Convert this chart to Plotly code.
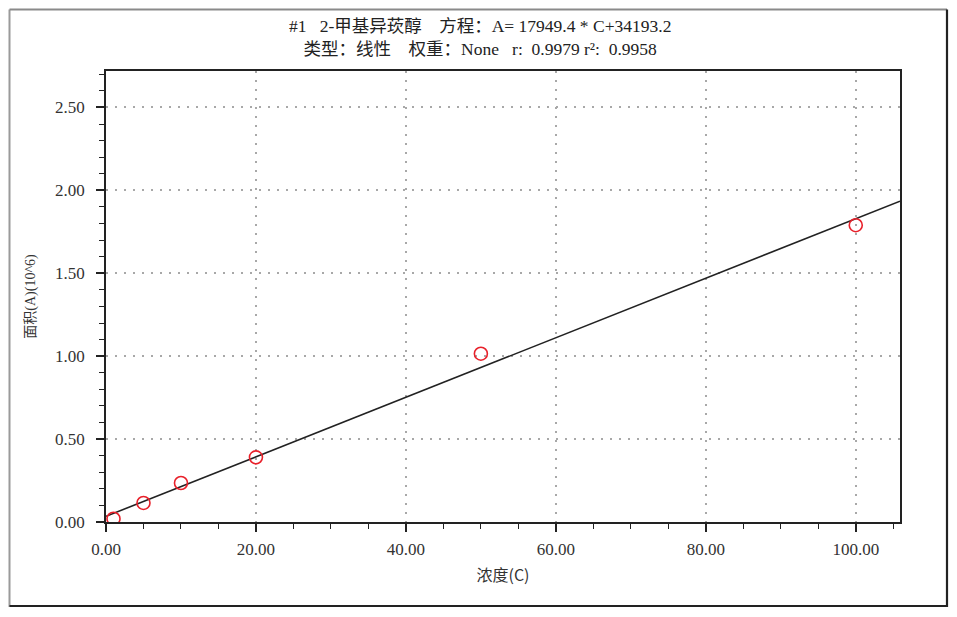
import plotly.graph_objects as go

# Data
conc = [1.0, 5.0, 10.0, 20.0, 50.0, 100.0]
area = [0.02, 0.115, 0.235, 0.39, 1.015, 1.79]  # x10^6
slope = 17949.4
intercept = 34193.2
x_max = 105.9
fit_x = [0.0, x_max]
fit_y = [(slope * c + intercept) / 1e6 for c in fit_x]

title_l1 = "#1   2-甲基异莰醇    方程：A= 17949.4 * C+34193.2"
title_l2 = "类型：线性    权重：None   r:  0.9979 r²:  0.9958"

OFF = 8  # page body offset
W, H = 957 - OFF, 617 - OFF
L, R, T, B = 106, 900, 71, 522  # target pixel positions on screenshot

font_fam = "Liberation Serif, Noto Sans CJK SC, serif"

fig = go.Figure()
fig.add_trace(go.Scatter(x=fit_x, y=fit_y, mode="lines",
                         line=dict(color="#222222", width=1.6),
                         showlegend=False, hoverinfo="skip"))
fig.add_trace(go.Scatter(x=conc, y=area, mode="markers",
                         marker=dict(symbol="circle-open", size=13,
                                     color="#e8202a", line=dict(width=1.6)),
                         showlegend=False, cliponaxis=True))

def px2x(px):
    return (px - L) / (R - L)

def px2y(py):
    return (B - py) / (B - T)

shapes = [
    dict(type="line", xref="paper", yref="paper", x0=px2x(9.5), x1=px2x(9.5),
         y0=px2y(9.5), y1=px2y(607), line=dict(color="#9a9a9a", width=2)),
    dict(type="line", xref="paper", yref="paper", x0=px2x(9.5), x1=px2x(947),
         y0=px2y(9.5), y1=px2y(9.5), line=dict(color="#8a8a8a", width=2)),
    dict(type="line", xref="paper", yref="paper", x0=px2x(947), x1=px2x(947),
         y0=px2y(9.5), y1=px2y(607), line=dict(color="#222222", width=2.2)),
    dict(type="line", xref="paper", yref="paper", x0=px2x(9.5), x1=px2x(947),
         y0=px2y(606), y1=px2y(606), line=dict(color="#222222", width=2.2)),
    dict(type="line", xref="paper", yref="paper", x0=px2x(954), x1=px2x(954),
         y0=px2y(9), y1=px2y(616), line=dict(color="#c8c8c8", width=1.5)),
]

fig.update_layout(
    width=W, height=H,
    margin=dict(l=L - OFF, r=957 - R, t=T - OFF, b=617 - B),
    paper_bgcolor="white", plot_bgcolor="white",
    font=dict(family=font_fam, size=15, color="#333333"),
    shapes=shapes,
    annotations=[
        dict(text=title_l1 + "<br>" + title_l2, xref="paper", yref="paper",
             x=px2x(480), y=px2y(38), xanchor="center", yanchor="middle",
             showarrow=False, font=dict(size=17.5, color="#222222", family=font_fam)),
    ],
)

grid_dash = "2px,7px"

fig.update_xaxes(
    range=[0, x_max], dtick=20, tick0=0, tickformat=".2f",
    showline=True, linecolor="#222222", linewidth=1.5, mirror=True,
    ticks="outside", ticklen=8, tickwidth=1.5, tickcolor="#222222",
    minor=dict(dtick=5, ticks="outside", ticklen=5, tickwidth=1.2, tickcolor="#222222", showgrid=False),
    showgrid=True, gridcolor="#a8a8a8", griddash=grid_dash, gridwidth=1.5,
    zeroline=False, ticklabelstandoff=3,
    title=dict(text="浓度(C)", font=dict(size=16, family="Noto Sans CJK SC, sans-serif", color="#333333"), standoff=12),
    tickfont=dict(size=17, family=font_fam, color="#333333"),
)
fig.update_yaxes(
    range=[0, 2.72], dtick=0.5, tick0=0, tickformat=".2f",
    showline=True, linecolor="#222222", linewidth=1.5, mirror=True,
    ticks="outside", ticklen=8, tickwidth=1.5, tickcolor="#222222",
    minor=dict(dtick=0.1, ticks="outside", ticklen=5, tickwidth=1.2, tickcolor="#222222", showgrid=False),
    showgrid=True, gridcolor="#a8a8a8", griddash=grid_dash, gridwidth=1.5,
    zeroline=False, ticklabelstandoff=8,
    title=dict(text="面积(A)(10^6)", font=dict(size=14, family=font_fam, color="#333333"), standoff=16),
    tickfont=dict(size=17, family=font_fam, color="#333333"),
)

fig.write_html("out.html")
